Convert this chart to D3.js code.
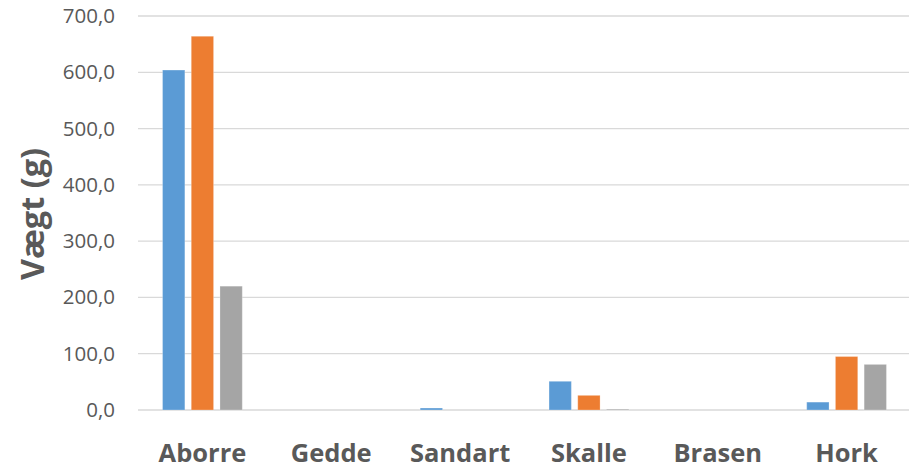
<!DOCTYPE html>
<html>
<head>
<meta charset="utf-8">
<script src="https://cdn.jsdelivr.net/npm/d3@7"></script>
<style>
  body { margin: 0; background: #fff; }
  svg { display: block; font-family: "Open Sans", sans-serif; }
</style>
</head>
<body>
<div class="content-container"></div>
<script>
// data
const categories = ["Aborre", "Gedde", "Sandart", "Skalle", "Brasen", "Hork"];
const seriesNames = ["Serie 1", "Serie 2", "Serie 3"];
const series1 = [604, 0, 3.5, 51, 0, 14];
const series2 = [664, 0, 0, 26, 0, 95];
const series3 = [220, 0, 0, 1.5, 0, 81];
const yTicks = [0, 100, 200, 300, 400, 500, 600, 700];
const colors = ["#5B9BD5", "#ED7D31", "#A5A5A5"];

const width = 909;
const height = 469;
const allSeries = [series1, series2, series3];

const fmt = d3.formatLocale({decimal: ",", thousands: ".", grouping: [3], currency: ["", " kr"]}).format(".1f");

//SCALES
const x0 = d3.scaleBand()
  .domain(categories)
  .range([138, 911])
  .padding(0);

const x1 = d3.scaleBand()
  .domain(seriesNames)
  .range([0, x0.bandwidth()])
  .paddingInner(0.223)
  .paddingOuter(0.855);

const y = d3.scaleLinear()
  .domain([0, 700])
  .range([410, 16]);

const svg = d3.select(".content-container")
  .append("svg")
  .attr("width", width)
  .attr("height", height);

//GRIDLINES
svg.append("g")
  .selectAll("line")
  .data(yTicks)
  .enter()
  .append("line")
  .attr("x1", 138)
  .attr("x2", width)
  .attr("y1", d => y(d))
  .attr("y2", d => y(d))
  .attr("stroke", "#d9d9d9")
  .attr("stroke-width", 1.3);

//Y AXIS (labels only)
const yAxis = d3.axisLeft(y)
  .tickValues(yTicks)
  .tickFormat(fmt)
  .tickSize(0)
  .tickPadding(0);

svg.append("g")
  .attr("transform", "translate(115,0)")
  .call(yAxis)
  .call(g => g.select(".domain").remove())
  .selectAll("text")
  .attr("font-family", "Open Sans")
  .attr("font-size", "20.5px")
  .attr("fill", "#595959");

//BARS
const groups = svg.append("g")
  .selectAll("g")
  .data(categories)
  .enter()
  .append("g")
  .attr("transform", d => "translate(" + x0(d) + ",0)");

groups.selectAll("rect")
  .data((d, i) => allSeries.map((s, k) => ({name: seriesNames[k], value: s[i], color: colors[k]})))
  .enter()
  .append("rect")
  .attr("x", d => x1(d.name))
  .attr("width", x1.bandwidth())
  .attr("y", d => y(d.value))
  .attr("height", d => y(0) - y(d.value))
  .attr("fill", d => d.color)
  .attr("stroke", "#ffffff")
  .attr("stroke-opacity", 0.25)
  .attr("stroke-width", 1);

//X AXIS (labels only)
const xAxis = d3.axisBottom(x0).tickSize(0).tickPadding(0);

svg.append("g")
  .attr("transform", "translate(0,462)")
  .call(xAxis)
  .call(g => g.select(".domain").remove())
  .selectAll("text")
  .attr("dy", 0)
  .attr("font-family", "Open Sans")
  .attr("font-weight", "bold")
  .attr("font-size", "25.5px")
  .attr("fill", "#595959");

//Y TITLE
svg.append("text")
  .attr("transform", "translate(44,214) rotate(-90)")
  .attr("text-anchor", "middle")
  .attr("font-family", "Open Sans")
  .attr("font-weight", "bold")
  .attr("font-size", "32.5px")
  .attr("fill", "#595959")
  .text("Vægt (g)");
</script>
</body>
</html>
